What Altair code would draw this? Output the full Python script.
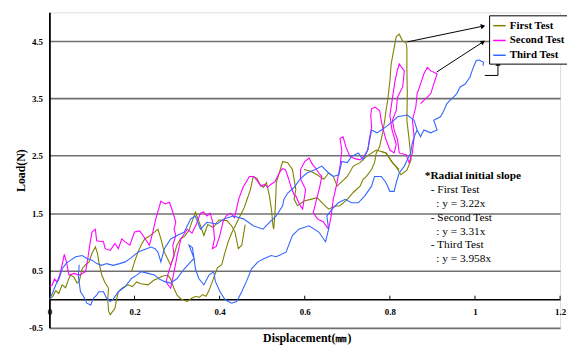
import altair as alt
import pandas as pd

# ---------------- data ----------------
SERIES = ["First Test", "Second Test", "Third Test"]
COLORS = ["#808000", "#FF00FF", "#3366FF"]

# Each test is drawn as a few traced strokes of (displacement, load)
first_test = [
    [(0.000, 0.00), (0.008, 0.05), (0.015, 0.15), (0.022, 0.10), (0.030, 0.25), (0.038, 0.20),
     (0.045, 0.35), (0.050, 0.42), (0.058, 0.38), (0.065, 0.28), (0.070, 0.31), (0.077, 0.53),
     (0.085, 0.60), (0.093, 0.65), (0.100, 0.80), (0.108, 0.91), (0.113, 0.80), (0.116, 0.65),
     (0.123, 0.42), (0.130, 0.30), (0.139, 0.19), (0.137, 0.00), (0.139, -0.21), (0.143, -0.27),
     (0.154, -0.16), (0.158, 0.00), (0.162, 0.13), (0.172, 0.20), (0.185, 0.25), (0.195, 0.22),
     (0.205, 0.30), (0.215, 0.27), (0.232, 0.25), (0.245, 0.33), (0.255, 0.36), (0.265, 0.40),
     (0.278, 0.42), (0.285, 0.35), (0.292, 0.20), (0.300, 0.07), (0.310, 0.00), (0.324, -0.04),
     (0.335, 0.02), (0.345, 0.05), (0.352, 0.03), (0.360, 0.08), (0.368, 0.05), (0.375, 0.15),
     (0.385, 0.35), (0.395, 0.55), (0.405, 0.60), (0.412, 0.80), (0.420, 1.00), (0.428, 1.15),
     (0.438, 1.30), (0.448, 1.45), (0.458, 1.60), (0.465, 1.75), (0.472, 1.90), (0.479, 2.14),
     (0.488, 2.10), (0.495, 2.00), (0.503, 1.95), (0.510, 2.03), (0.517, 1.80), (0.522, 1.55),
     (0.525, 1.30), (0.527, 1.22), (0.530, 1.50), (0.532, 1.80), (0.533, 2.03), (0.540, 2.20),
     (0.548, 2.40), (0.560, 2.38), (0.571, 2.26), (0.575, 2.09), (0.579, 1.91), (0.575, 1.74),
     (0.583, 1.63), (0.598, 1.71), (0.614, 1.74), (0.629, 1.77), (0.641, 1.68), (0.656, 1.57),
     (0.670, 1.62), (0.683, 1.63), (0.700, 1.74), (0.714, 1.86), (0.730, 1.97), (0.737, 2.09),
     (0.745, 2.14), (0.757, 2.26), (0.764, 2.38), (0.768, 2.55), (0.776, 2.66), (0.783, 2.90),
     (0.788, 3.12), (0.791, 3.29), (0.795, 3.47), (0.800, 3.80), (0.803, 4.10), (0.810, 4.38),
     (0.815, 4.58), (0.822, 4.62), (0.830, 4.50), (0.838, 4.47), (0.840, 4.38), (0.840, 4.00),
     (0.841, 3.60), (0.840, 3.12), (0.845, 2.80), (0.850, 2.43), (0.840, 2.25), (0.826, 2.17),
     (0.815, 2.30), (0.806, 2.38), (0.791, 2.55), (0.778, 2.58)],
    [(0.193, 0.48), (0.200, 0.65), (0.208, 0.82), (0.216, 0.95), (0.224, 1.05), (0.235, 1.10),
     (0.247, 1.17), (0.255, 1.22), (0.262, 1.05), (0.270, 0.82), (0.278, 0.70), (0.285, 0.59),
     (0.292, 0.75), (0.300, 0.95), (0.308, 1.05), (0.318, 1.10), (0.328, 1.20), (0.343, 1.52),
     (0.355, 1.28), (0.363, 1.11), (0.372, 1.30), (0.385, 1.25), (0.398, 1.38), (0.417, 1.37),
     (0.428, 1.28), (0.436, 1.17), (0.444, 0.88), (0.452, 0.94), (0.460, 1.30)],
    [(0.598, 2.26), (0.614, 2.23), (0.629, 2.17), (0.645, 2.09), (0.656, 2.20), (0.667, 2.14),
     (0.676, 1.97), (0.700, 2.14), (0.714, 2.32), (0.730, 2.38), (0.745, 2.49), (0.768, 2.60),
     (0.791, 2.55), (0.806, 2.38), (0.822, 2.26)],
]

second_test = [
    [(0.000, 0.22), (0.006, 0.24), (0.012, 0.35), (0.018, 0.30), (0.024, 0.42), (0.030, 0.60),
     (0.035, 0.78), (0.040, 0.65), (0.046, 0.42), (0.058, 0.45), (0.070, 0.42), (0.085, 0.48),
     (0.090, 0.70), (0.095, 0.95), (0.100, 1.17), (0.108, 1.22), (0.111, 1.02), (0.127, 1.00),
     (0.131, 0.88), (0.143, 0.85), (0.154, 0.97), (0.162, 0.88), (0.170, 1.05), (0.178, 1.00),
     (0.189, 0.94), (0.200, 1.17), (0.212, 1.19), (0.220, 1.11), (0.235, 0.94), (0.243, 1.17),
     (0.250, 1.40), (0.262, 1.71), (0.272, 1.66), (0.282, 1.69), (0.290, 1.52), (0.297, 1.34),
     (0.293, 1.22), (0.297, 1.11), (0.290, 0.94), (0.293, 0.76), (0.285, 0.59), (0.278, 0.42),
     (0.274, 0.30), (0.285, 0.19), (0.293, 0.48), (0.300, 0.75), (0.309, 1.05), (0.324, 1.22),
     (0.335, 1.15), (0.345, 1.30), (0.355, 1.50), (0.362, 1.52), (0.370, 1.45), (0.378, 1.50),
     (0.385, 1.30), (0.388, 1.05), (0.383, 0.88), (0.392, 0.92), (0.400, 1.10), (0.408, 1.35),
     (0.415, 1.45), (0.425, 1.50), (0.435, 1.42), (0.445, 1.75), (0.455, 1.95), (0.470, 2.14),
     (0.480, 2.14), (0.490, 2.05), (0.497, 1.97), (0.505, 2.00), (0.513, 1.95), (0.520, 2.00),
     (0.530, 2.05), (0.540, 2.20), (0.548, 2.28), (0.555, 2.25), (0.562, 2.10), (0.568, 1.95),
     (0.575, 1.82), (0.579, 1.80), (0.588, 1.65), (0.595, 1.57), (0.602, 1.91), (0.590, 2.10),
     (0.590, 2.26), (0.600, 2.40), (0.610, 2.46), (0.618, 2.35), (0.625, 2.29), (0.633, 2.20),
     (0.640, 2.14), (0.635, 1.95), (0.628, 1.75), (0.620, 1.51), (0.630, 1.40), (0.643, 1.35),
     (0.656, 1.22), (0.662, 1.45), (0.667, 1.74), (0.675, 2.00), (0.683, 2.32), (0.687, 2.60),
     (0.683, 2.80), (0.690, 2.83), (0.697, 2.65), (0.706, 2.49), (0.718, 2.45), (0.730, 2.43),
     (0.740, 2.50), (0.748, 2.60), (0.752, 2.80), (0.757, 3.00), (0.755, 3.20), (0.757, 3.32),
     (0.765, 3.35), (0.776, 3.29), (0.780, 3.10), (0.783, 3.00), (0.790, 2.80), (0.800, 2.60),
     (0.810, 2.55), (0.815, 2.70), (0.805, 2.95), (0.800, 3.20), (0.806, 3.50), (0.812, 3.80),
     (0.818, 4.00), (0.822, 4.10), (0.834, 3.98), (0.830, 3.70), (0.818, 3.52), (0.815, 3.29),
     (0.806, 3.12), (0.810, 2.95), (0.818, 2.78), (0.822, 2.55), (0.838, 2.52), (0.845, 2.38),
     (0.853, 2.55), (0.857, 2.83), (0.853, 3.12), (0.861, 3.35), (0.864, 3.58), (0.872, 3.75),
     (0.880, 3.93), (0.888, 4.04), (0.896, 3.98), (0.911, 3.93), (0.903, 3.75), (0.896, 3.58),
     (0.885, 3.50), (0.872, 3.41)],
]

third_test = [
    [(0.000, 0.00), (0.007, 0.10), (0.015, 0.25), (0.023, 0.36), (0.030, 0.53), (0.039, 0.62),
     (0.050, 0.68), (0.062, 0.74), (0.077, 0.76), (0.088, 0.71), (0.100, 0.68), (0.111, 0.62),
     (0.123, 0.59), (0.134, 0.62), (0.150, 0.59), (0.165, 0.62), (0.178, 0.65), (0.192, 0.72),
     (0.208, 0.82), (0.222, 0.86), (0.239, 0.91), (0.248, 0.88), (0.255, 0.82), (0.262, 0.65),
     (0.270, 0.88), (0.285, 1.05), (0.300, 1.11), (0.317, 1.17), (0.332, 1.40), (0.343, 1.45),
     (0.355, 1.22), (0.370, 1.34), (0.394, 1.31), (0.410, 1.40), (0.432, 1.45), (0.456, 1.40),
     (0.479, 1.28), (0.502, 1.22), (0.517, 1.34), (0.533, 1.45), (0.548, 1.63), (0.551, 1.74),
     (0.560, 1.85), (0.575, 1.95), (0.590, 2.10), (0.605, 2.20), (0.625, 2.26), (0.640, 2.32),
     (0.656, 2.20), (0.667, 2.14), (0.680, 2.17), (0.687, 2.40), (0.700, 2.38), (0.710, 2.49),
     (0.726, 2.55), (0.737, 2.43), (0.748, 2.60), (0.757, 2.95), (0.770, 2.90), (0.780, 2.95),
     (0.790, 3.00), (0.810, 3.12), (0.818, 3.18), (0.841, 3.21), (0.857, 3.12), (0.864, 2.95),
     (0.872, 2.83), (0.880, 2.95), (0.896, 2.90), (0.911, 2.95), (0.903, 3.12), (0.919, 3.18),
     (0.927, 3.29), (0.934, 3.41), (0.942, 3.47), (0.957, 3.58), (0.965, 3.70), (0.977, 3.75),
     (0.988, 3.87), (0.996, 4.04), (1.003, 4.16), (1.010, 4.17), (1.020, 4.13), (1.019, 4.07)],
    [(0.070, 0.60), (0.068, 0.40), (0.073, 0.13), (0.080, 0.05), (0.088, -0.07), (0.097, -0.10),
     (0.104, 0.02), (0.111, 0.07), (0.116, 0.13), (0.127, 0.13), (0.134, 0.02), (0.143, -0.04),
     (0.150, 0.00), (0.162, 0.13), (0.178, 0.22), (0.193, 0.36), (0.205, 0.42), (0.216, 0.48),
     (0.232, 0.45), (0.247, 0.42), (0.258, 0.35), (0.270, 0.31), (0.285, 0.28), (0.300, 0.36),
     (0.317, 0.53), (0.332, 0.65), (0.340, 0.71), (0.336, 0.90), (0.328, 0.94), (0.340, 0.71),
     (0.343, 0.53), (0.351, 0.36), (0.363, 0.25), (0.375, 0.42), (0.386, 0.48), (0.390, 0.31),
     (0.401, 0.13), (0.413, -0.01), (0.428, -0.07), (0.440, -0.04), (0.452, 0.13), (0.463, 0.31),
     (0.475, 0.53), (0.490, 0.65), (0.505, 0.71), (0.521, 0.76), (0.533, 0.74), (0.556, 0.82),
     (0.571, 1.11), (0.586, 1.22), (0.610, 1.28), (0.633, 1.17), (0.649, 1.00), (0.656, 1.22),
     (0.652, 1.45), (0.664, 1.57), (0.679, 1.68), (0.695, 1.74), (0.710, 1.68), (0.726, 1.68),
     (0.741, 1.80), (0.757, 1.97), (0.764, 2.14), (0.780, 2.14), (0.791, 2.03), (0.800, 1.88),
     (0.810, 1.88), (0.815, 2.03), (0.822, 2.20), (0.834, 2.32), (0.841, 2.43), (0.849, 2.55),
     (0.852, 2.70), (0.857, 2.83), (0.864, 2.95)],
]

X_TICKS = [0, 0.2, 0.4, 0.6, 0.8, 1, 1.2]
Y_TICKS = [-0.5, 0.5, 1.5, 2.5, 3.5, 4.5]

# annotation: slope note
NOTE_TEXT = ["*Radial initial slope", "- First Test", ": y = 3.22x", "- Second Test",
             ": y = 3.31x", "- Third Test", ": y = 3.958x"]
NOTE_X = [0.882, 0.896, 0.909, 0.896, 0.909, 0.896, 0.909]
NOTE_Y = [2.147, 1.894, 1.666, 1.420, 1.179, 0.944, 0.703]
NOTE_BOLD = ["bold", "normal", "normal", "normal", "normal", "normal", "normal"]

# arrows from curves to legend (data units)
ARROW_X1 = [0.841, 0.910, 1.023, 1.054]
ARROW_Y1 = [4.485, 3.960, 3.900, 3.900]
ARROW_X2 = [1.019, 1.019, 1.054, 1.054]
ARROW_Y2 = [4.760, 4.485, 3.900, 4.110]
HEAD_X = [1.019, 1.019, 1.054]
HEAD_Y = [4.760, 4.485, 4.110]
HEAD_ANGLE = [78, 57, 0]

# ---------------- build tables ----------------
rows = []
for name, segs in zip(SERIES, [first_test, second_test, third_test]):
    for si, seg in enumerate(segs):
        for k, (x, y) in enumerate(seg):
            rows.append({"test": name, "seg": f"{name}-{si}", "k": k, "x": x, "y": y})
df = pd.DataFrame(rows)

serif = "'Liberation Serif', 'Times New Roman', Times, serif"
XS = alt.Scale(domain=[0, 1.2], nice=False, zero=False)
YS = alt.Scale(domain=[-0.5, 5.0], nice=False, zero=False)

lines = alt.Chart(df).mark_line(strokeWidth=1.1, clip=True).encode(
    x=alt.X("x:Q", scale=XS, axis=alt.Axis(
        values=X_TICKS, labelExpr="datum.value + ''", ticks=False, tickSize=0,
        grid=False, offset=-29.09, domainColor="black", domainWidth=1.5,
        labelFont=serif, labelFontWeight="bold", labelFontSize=9, labelColor="black",
        labelPadding=9, labelBaseline="top", labelFlush=False,
        title="Displacement(㎜)", titleFont=serif, titleFontWeight="bold",
        titleFontSize=12, titleColor="black", titleX=261, titleY=39,
        titleBaseline="middle", titleAlign="center")),
    y=alt.Y("y:Q", scale=YS, axis=alt.Axis(
        values=Y_TICKS, labelExpr="datum.value + ''", ticks=False, tickSize=0,
        grid=True, gridColor="#707070", gridWidth=1.6,
        domainColor="black", domainWidth=1.8,
        labelFont=serif, labelFontWeight="bold", labelFontSize=9, labelColor="black",
        labelPadding=7, labelFlush=False,
        title="Load(N)", titleFont=serif, titleFontWeight="bold", titleFontSize=12,
        titleColor="black", titleX=-29, titleY=160, titleAngle=-90,
        titleAlign="center", titleBaseline="middle")),
    color=alt.Color("test:N", scale=alt.Scale(domain=SERIES, range=COLORS),
                    legend=alt.Legend(orient="none", legendX=446, legendY=3, title=None,
                                      symbolType="stroke", symbolStrokeWidth=1.5,
                                      symbolSize=160, labelFont=serif,
                                      labelFontWeight="bold", labelFontSize=11,
                                      labelColor="black", strokeColor="black",
                                      fillColor="white", padding=3, rowPadding=2,
                                      labelOffset=3)),
    detail="seg:N",
    order="k:Q",
)

tick_df = pd.DataFrame({"x": X_TICKS[1:], "y": [0.0] * 6, "y2": [0.06] * 6})
ticks = alt.Chart(tick_df).mark_rule(color="black", strokeWidth=1).encode(
    x=alt.X("x:Q", scale=XS), y=alt.Y("y:Q", scale=YS), y2="y2:Q")

arrow_df = pd.DataFrame({"x": ARROW_X1, "y": ARROW_Y1, "x2": ARROW_X2, "y2": ARROW_Y2})
arrows = alt.Chart(arrow_df).mark_rule(color="black", strokeWidth=1).encode(
    x=alt.X("x:Q", scale=XS), y=alt.Y("y:Q", scale=YS), x2="x2:Q", y2="y2:Q")

head_df = pd.DataFrame({"x": HEAD_X, "y": HEAD_Y, "a": HEAD_ANGLE})
heads = alt.Chart(head_df).mark_point(shape="triangle-up", filled=True, color="black",
                                       size=28, opacity=1).encode(
    x=alt.X("x:Q", scale=XS), y=alt.Y("y:Q", scale=YS),
    angle=alt.Angle("a:Q", scale=None))

note_df = pd.DataFrame({"x": NOTE_X, "y": NOTE_Y, "t": NOTE_TEXT, "w": NOTE_BOLD})
note_b = alt.Chart(note_df[note_df.w == "bold"]).mark_text(
    align="left", baseline="middle", font=serif, fontSize=11.5, fontWeight="bold",
    color="black").encode(x=alt.X("x:Q", scale=XS), y=alt.Y("y:Q", scale=YS), text="t:N")
note_n = alt.Chart(note_df[note_df.w == "normal"]).mark_text(
    align="left", baseline="middle", font=serif, fontSize=11.5, color="black").encode(
    x=alt.X("x:Q", scale=XS), y=alt.Y("y:Q", scale=YS), text="t:N")

chart = alt.layer(lines, ticks, arrows, heads, note_b, note_n).properties(
    width=518, height=320,
    padding={"left": 42, "top": 2, "right": 7, "bottom": 18},
    autosize="none",
).configure_view(stroke="#222", strokeWidth=1.2).configure(background="white")

chart.save("out.html", embed_options={"renderer": "svg", "actions": False})
